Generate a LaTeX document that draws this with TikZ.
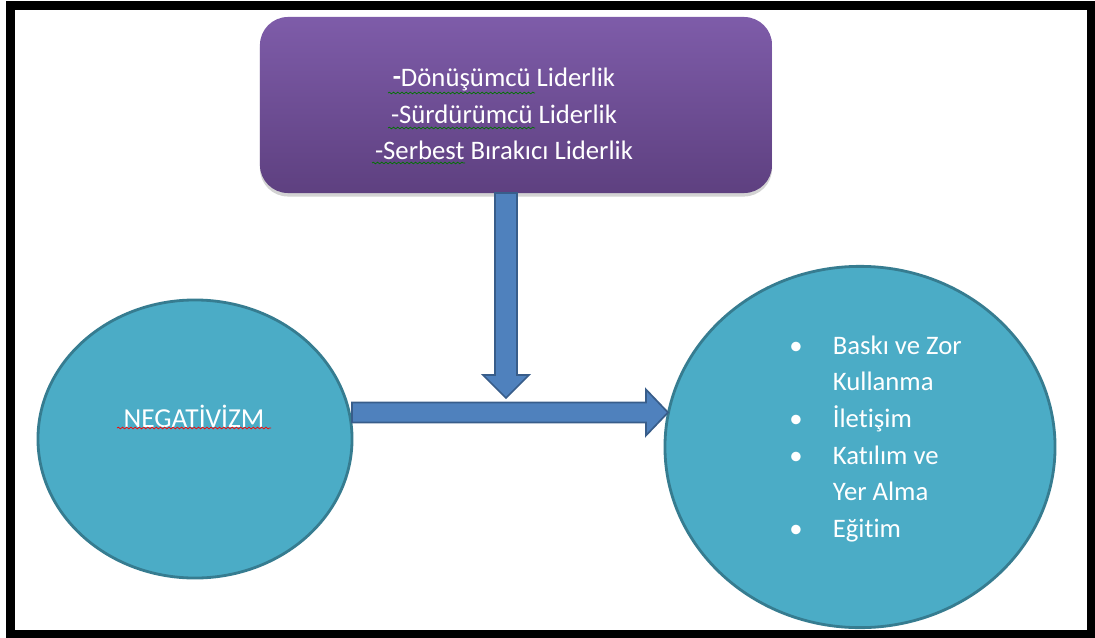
\documentclass[tikz,border=0pt]{standalone}
\usepackage{fontspec}
\setmainfont{Carlito}[Ligatures=NoCommon]
\usetikzlibrary{shapes.geometric,shadows,calc,decorations.pathmorphing}

\definecolor{morUst}{HTML}{7E5CA9}
\definecolor{morAlt}{HTML}{5E4080}
\definecolor{turkuaz}{HTML}{4BACC6}
\definecolor{turkuazKenar}{HTML}{367C90}
\definecolor{okMavi}{HTML}{4F81BD}
\definecolor{okKenar}{HTML}{385D8A}

\begin{document}
\begin{tikzpicture}[
		x=0.025cm, y=-0.025cm,
		kutu/.style={
			rectangle,
			rounded corners=20pt,
			minimum width=12.8cm,
			minimum height=4.4cm,
			top color=morUst,
			bottom color=morAlt,
			drop shadow={shadow xshift=0pt, shadow yshift=-2.5pt, opacity=0.35}
		},
		daire/.style={
			draw=turkuazKenar,
			ellipse,
			fill=turkuaz,
			line width=2pt,
			inner sep=0pt
		},
		yazi/.style={
			text=white,
			font=\fontsize{19}{26}\selectfont,
			align=center,
			inner sep=0pt
		},
		blokok/.style={
			draw=okKenar,
			fill=okMavi,
			line width=1.2pt,
			line join=miter
		},
		dalga/.style={
			decorate,
			decoration={snake, amplitude=0.6pt, segment length=3pt},
			line width=0.5pt
		}
		]
		
		\useasboundingbox (0,0) rectangle (1095,637);
		\draw[line width=6.4pt] (10.5,6) rectangle (1091,634);
		
		\node[kutu] (lider) at (516,105) {};
		\node[yazi] (lidertxt) at (504,114) {\raisebox{1pt}{\textbf{-}}Dönüşümcü Liderlik\\-Sürdürümcü Liderlik\\-Serbest Bırakıcı Liderlik};
		
		\node[daire, minimum width=7.85cm, minimum height=6.95cm] (neg) at (195,439) {};
		\node[yazi, font=\fontsize{19.5}{26}\selectfont] (negtxt) at (194,416) {NEGATİVİZM};
		
		\node[daire, minimum width=9.75cm, minimum height=9.03cm] (sonuc) at (860,447) {};
		\node[yazi, anchor=west, align=left] (liste) at (789,438.5) {%
			\begin{tabular}{@{}p{31pt}@{}l@{}}
				\textbullet & Baskı ve Zor\\
				& Kullanma\\
				\textbullet & İletişim\\
				\textbullet & Katılım ve\\
				& Yer Alma\\
				\textbullet & Eğitim
			\end{tabular}};
		
		%Oklar
		\coordinate (dusBas) at (506,193);
		\coordinate (dusUc) at (506,398);
		\coordinate (yatBas) at (352,412.5);
		\coordinate (yatUc) at (668,412.5);
		
		\draw[blokok] ($(dusBas)+(-11,0)$) -- ($(dusUc)+(-11,-23)$) -- ($(dusUc)+(-23,-23)$) -- (dusUc) -- ($(dusUc)+(23,-23)$) -- ($(dusUc)+(11,-23)$) -- ($(dusBas)+(11,0)$) -- cycle;
		
		\draw[blokok] ($(yatBas)+(0,-10)$) -- ($(yatUc)+(-22,-10)$) -- ($(yatUc)+(-22,-23)$) -- (yatUc) -- ($(yatUc)+(-22,23)$) -- ($(yatUc)+(-22,10)$) -- ($(yatBas)+(0,10)$) -- cycle;
		
		%Dalgali cizgiler
		\draw[dalga, green!45!black] (388,93) -- (535,93);
		\draw[dalga, green!45!black] (388,128) -- (535,128);
		\draw[dalga, green!45!black] (372,163) -- (465,163);
		\draw[dalga, red] (117,428) -- (271,428);
		
	\end{tikzpicture}
\end{document}
